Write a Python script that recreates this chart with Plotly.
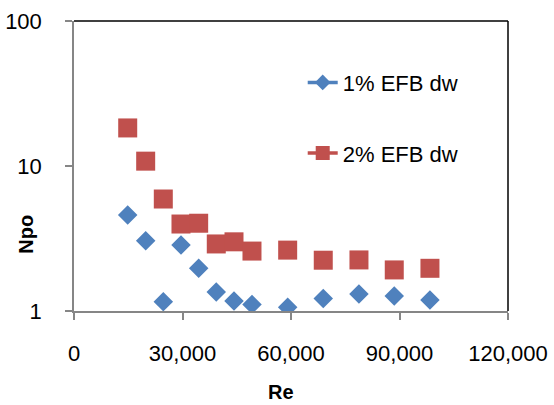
import plotly.graph_objects as go

re_vals = [14850, 19820, 24690, 29580, 34470, 39340, 44240, 49210, 59080, 68920, 78790, 88550, 98420]
npo_1pct = [4.59, 3.05, 1.16, 2.85, 1.97, 1.35, 1.17, 1.11, 1.06, 1.22, 1.31, 1.27, 1.19]
npo_2pct = [18.3, 10.8, 5.92, 3.98, 4.03, 2.90, 3.00, 2.59, 2.63, 2.24, 2.25, 1.92, 1.97]
series_names = ["1% EFB dw", "2% EFB dw"]
x_ticks = [0, 30000, 60000, 90000, 120000]
y_ticks = [1, 10, 100]

BLUE = "#4F81BD"
RED = "#C0504D"
AXIS = "#868686"
FONT = "Liberation Sans, Arial, sans-serif"

fig = go.Figure()
fig.add_trace(go.Scatter(x=re_vals, y=npo_1pct, mode="markers", showlegend=False,
                         marker=dict(symbol="diamond", size=15, color=BLUE)))
fig.add_trace(go.Scatter(x=re_vals, y=npo_2pct, mode="markers", showlegend=False,
                         marker=dict(symbol="square", size=19, color=RED)))
# legend entries (Excel-style line + marker)
fig.add_trace(go.Scatter(x=[None], y=[None], mode="lines+markers", name=series_names[0],
                         legendgroup="a", line=dict(color=BLUE, width=3.5),
                         marker=dict(symbol="diamond", size=12, color=BLUE)))
fig.add_trace(go.Scatter(x=[None], y=[None], mode="lines+markers", name=series_names[1],
                         legendgroup="b", line=dict(color=RED, width=3.5),
                         marker=dict(symbol="square", size=14, color=RED)))

fig.update_layout(
    width=554, height=405,
    margin=dict(l=74, r=46, t=21, b=94, autoexpand=False),
    paper_bgcolor="white", plot_bgcolor="white",
    font=dict(family=FONT, color="black", size=22),
    showlegend=True,
    legend=dict(x=0.527, xanchor="left", y=0.86, yanchor="top",
                bgcolor="rgba(0,0,0,0)", font=dict(size=22, family=FONT),
                tracegroupgap=39, traceorder="grouped"),
    xaxis=dict(range=[0, 120000], tickvals=x_ticks, tickformat=",d", automargin=False,
               showgrid=False, zeroline=False, showline=True, linecolor=AXIS, linewidth=1.5,
               ticks="outside", ticklen=7, tickcolor=AXIS, tickwidth=1.5,
               ticklabelstandoff=15, tickfont=dict(size=22)),
    yaxis=dict(type="log", range=[0, 2], tickvals=y_ticks, ticktext=[str(v) for v in y_ticks],
               automargin=False,
               showgrid=False, zeroline=False, showline=True, linecolor=AXIS, linewidth=1.5,
               ticks="outside", ticklen=7, tickcolor=AXIS, tickwidth=1.5,
               ticklabelstandoff=19, tickfont=dict(size=22)),
    shapes=[
        dict(type="line", xref="paper", yref="paper", x0=0, x1=1, y0=1, y1=1,
             line=dict(color="black", width=1.5)),
        dict(type="line", xref="paper", yref="paper", x0=1, x1=1, y0=0, y1=1,
             line=dict(color="black", width=1.5)),
    ],
    annotations=[
        dict(text="<b>Re</b>", xref="paper", yref="paper", x=0.477, y=-0.322,
             showarrow=False, font=dict(size=20, family=FONT), xanchor="center", yanchor="bottom",
             borderpad=0),
        dict(text="<b>Npo</b>", xref="paper", yref="paper", x=-0.111, y=0.266, textangle=-90,
             showarrow=False, font=dict(size=20, family=FONT), xanchor="center", yanchor="middle"),
    ],
)

fig.write_html("out.html", config={"displayModeBar": False},
               post_script="document.body.style.margin='0';document.body.style.padding='0';")
